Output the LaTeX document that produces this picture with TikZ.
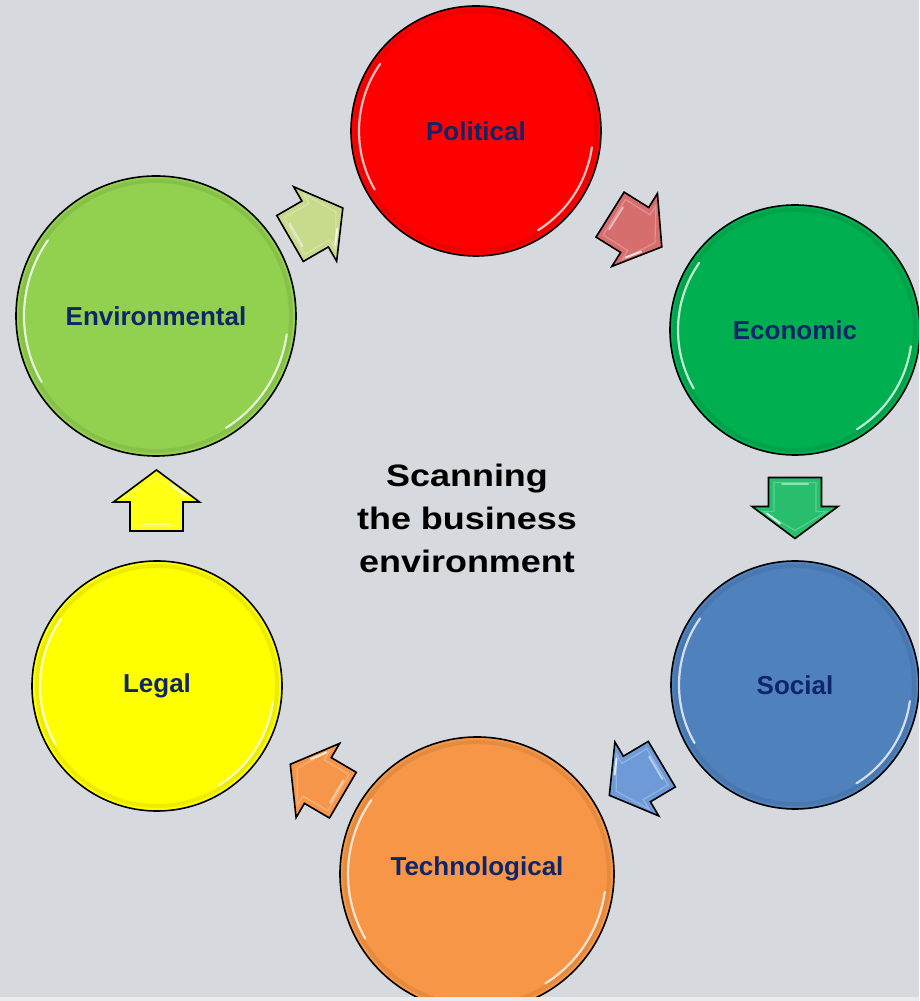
\documentclass[tikz,border=0pt]{standalone}
\usepackage{fontspec}
\setmainfont{Liberation Sans}
\newfontfamily\widefont[FakeStretch=1.16]{Liberation Sans}
\usetikzlibrary{calc}
\definecolor{bg}{RGB}{214,217,221}
\definecolor{bgstrip}{RGB}{234,235,237}
\definecolor{navy}{RGB}{14,38,104}
\definecolor{cpol}{RGB}{255,0,0}
\definecolor{ceco}{RGB}{0,176,80}
\definecolor{csoc}{RGB}{79,129,189}
\definecolor{ctech}{RGB}{247,150,70}
\definecolor{cleg}{RGB}{255,255,0}
\definecolor{cenv}{RGB}{146,208,80}
\definecolor{aenv}{RGB}{200,218,140}
\definecolor{apol}{RGB}{214,110,110}
\definecolor{aeco}{RGB}{40,190,110}
\definecolor{asoc}{RGB}{110,155,215}
\definecolor{atech}{RGB}{245,150,75}
\definecolor{aleg}{RGB}{255,255,20}
\tikzset{
  ball/.style={circle, draw=black, line width=1.6pt, inner sep=0pt, minimum size=#1,
    font=\bfseries\fontsize{26}{30}\selectfont, text=navy},
  blockarr/.style={draw=black, line width=1.6pt, line join=miter},
  gloss/.style={white, line width=2.2pt, opacity=0.75, line cap=round},
  rim/.style={line width=4pt, opacity=0.18},
}
\newcommand\ballgloss[3]{% node, radius, colour
  \draw[rim, draw=#3!60!black] (#1) circle[radius=#2pt+3pt];
  \draw[gloss] ($(#1)+(145:#2pt)$) arc[start angle=145, end angle=210, radius=#2pt];
  \draw[gloss] ($(#1)+(-8:#2pt)$) arc[start angle=-8, end angle=-58, radius=#2pt];
}
\newcommand\flowarrow[4]{% from, to, angle, colour
  \begin{scope}[shift={($(#1)!0.5!(#2)$)}, rotate=#3]
    \draw[blockarr, fill=#4] (-30,-26.5) -- (-1,-26.5) -- (-1,-43) -- (31,0)
      -- (-1,43) -- (-1,26.5) -- (-30,26.5) -- cycle;
    \draw[white, opacity=0.25, line width=1.2pt] (-25,-21) -- (4,-21) -- (4,-32) -- (23,0)
      -- (4,32) -- (4,21) -- (-25,21) -- cycle;
    \draw[gloss, line width=2pt] (6,-28) -- (16,-15);
    \draw[gloss, line width=2pt, opacity=0.5] (-23,-13) -- (-23,13);
  \end{scope}}
\begin{document}
\begin{tikzpicture}[x=1pt, y=1pt]
  \clip (0,0) rectangle (919,1001);
  \fill[bg] (0,0) rectangle (919,1001);

  \node[ball=250pt, fill=cpol]  (pol)  at (476,870) {};
  \node[ball=250pt, fill=ceco]  (eco)  at (795,671) {};
  \node[ball=248pt, fill=csoc]  (soc)  at (795,316) {};
  \node[ball=274pt, fill=ctech] (tech) at (477,127) {};
  \node[ball=250pt, fill=cleg]  (leg)  at (157,315) {};
  \node[ball=280pt, fill=cenv]  (env)  at (156,685) {};

  \ballgloss{pol}{117}{cpol}
  \ballgloss{eco}{117}{ceco}
  \ballgloss{soc}{116}{csoc}
  \ballgloss{tech}{129}{ctech}
  \ballgloss{leg}{117}{cleg}
  \ballgloss{env}{132}{cenv}

  \node[font=\bfseries\fontsize{26}{30}\selectfont, text=navy] (lpol)  at (pol)  {Political};
  \node[font=\bfseries\fontsize{26}{30}\selectfont, text=navy] (leco)  at (eco)  {Economic};
  \node[font=\bfseries\fontsize{26}{30}\selectfont, text=navy] (lsoc)  at (soc)  {Social};
  \node[font=\bfseries\fontsize{26}{30}\selectfont, text=navy] (ltech) at ($(tech)+(0,5)$) {Technological};
  \node[font=\bfseries\fontsize{26}{30}\selectfont, text=navy] (lleg)  at (leg)  {Legal};
  \node[font=\bfseries\fontsize{26}{30}\selectfont, text=navy] (lenv)  at (env)  {Environmental};

  \flowarrow{env}{pol}{30}{aenv}
  \flowarrow{pol}{eco}{-32}{apol}
  \flowarrow{eco}{soc}{-90}{aeco}
  \flowarrow{soc}{tech}{210.7}{asoc}
  \flowarrow{tech}{leg}{149.6}{atech}
  \flowarrow{leg}{env}{90}{aleg}

  \node[font=\widefont\bfseries\fontsize{31}{43}\selectfont, align=center] (title)
    at (467,483) {Scanning\\the business\\environment};

  \fill[bgstrip] (0,0) rectangle (919,4);
\end{tikzpicture}
\end{document}
